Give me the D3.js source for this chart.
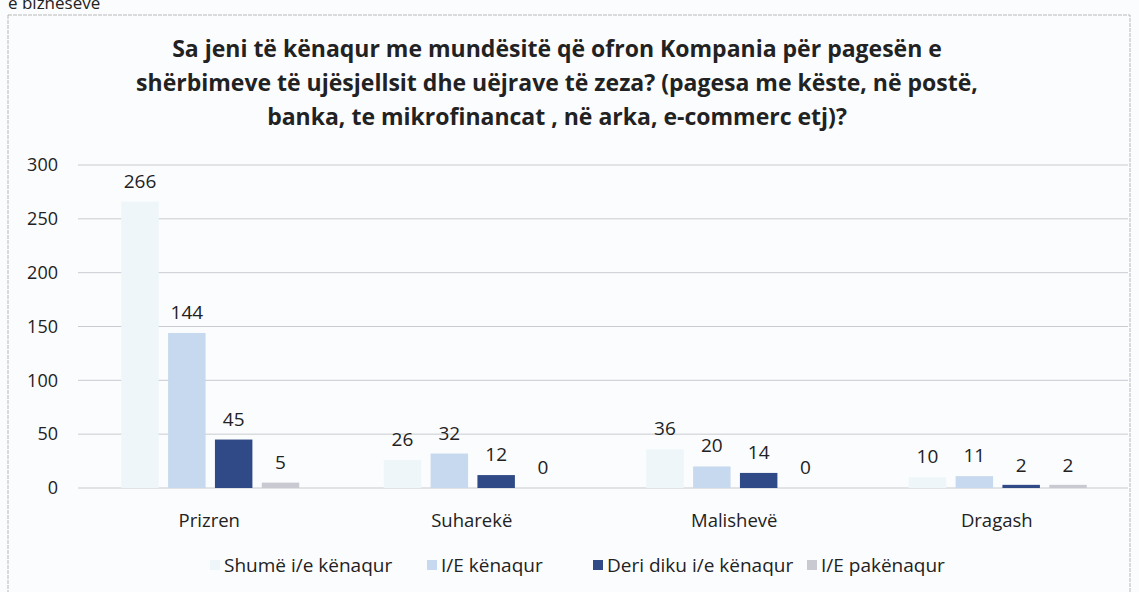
<!DOCTYPE html>
<html lang="en">
<head>
<meta charset="utf-8">
<title>Kenaqshmeria me pagesat</title>
<script src="https://d3js.org/d3.v7.min.js"></script>
<style>
  body { margin: 0; background: #fbfcfe; }
  text { font-family: "Open Sans", "Noto Sans", sans-serif; fill: #222; }
</style>
</head>
<body>
<div id="chart"></div>
<script>
var w = 1139, h = 592;

// data
var cities = ["Prizren", "Suharekë", "Malishevë", "Dragash"];
var seriesNames = ["Shumë i/e kënaqur", "I/E kënaqur", "Deri diku i/e kënaqur", "I/E pakënaqur"];
var shume = [266, 26, 36, 10];
var kenaqur = [144, 32, 20, 11];
var deriDiku = [45, 12, 14, 2];
var pakenaqur = [5, 0, 0, 2];
var yTicks = [0, 50, 100, 150, 200, 250, 300];
var titleLines = [
  "Sa jeni të kënaqur me mundësitë që ofron Kompania për pagesën e",
  "shërbimeve të ujësjellsit dhe uëjrave të zeza? (pagesa me këste, në postë,",
  "banka, te mikrofinancat , në arka, e-commerc etj)?"
];
var colors = ["#eef6f9", "#c6d9ee", "#2f4a86", "#c9c9d2"];

var allSeries = [shume, kenaqur, deriDiku, pakenaqur];

var svg = d3.select("#chart").append("svg")
  .attr("width", w).attr("height", h);

// text cut off above the frame, as in the source scan
svg.append("text").attr("x", 8).attr("y", 9)
  .style("font-size", "17px").text("e bizneseve");

// frame
svg.append("rect").attr("x", 8).attr("y", 15).attr("width", 1122).attr("height", 600)
  .attr("fill", "none").attr("stroke", "#b8b8b8").attr("stroke-width", 1)
  .attr("stroke-dasharray", "4,1");

// title
svg.selectAll(".title").data(titleLines).enter().append("text")
  .attr("class", "title")
  .attr("x", 557).attr("y", (d, i) => 57 + i * 34)
  .attr("text-anchor", "middle")
  .style("font-size", "23px").style("font-weight", "bold")
  .text(d => d);

var x0 = d3.scaleBand().domain(cities).range([78, 1128]);
var x1 = d3.scaleBand().domain(d3.range(4)).range([0, 178]).paddingInner(0.2);
var y = d3.scaleLinear().domain([0, 300]).range([488, 165]);

// grid
svg.selectAll(".grid").data(yTicks).enter().append("line")
  .attr("x1", 78).attr("x2", 1128)
  .attr("y1", d => y(d)).attr("y2", d => y(d))
  .attr("stroke", "#c8cbd0").attr("stroke-width", 1);

// y axis labels
var yAxis = d3.axisLeft(y).tickValues(yTicks).tickSize(0).tickPadding(0);
svg.append("g").attr("transform", "translate(58,0)").call(yAxis)
  .call(g => g.select(".domain").remove())
  .selectAll("text").style("font-size", "18px").attr("fill", "#222")
  .style("font-family", "'Open Sans', sans-serif");

// x axis labels
var xAxis = d3.axisBottom(x0).tickSize(0).tickPadding(0);
svg.append("g").attr("transform", "translate(0,514)").call(xAxis)
  .call(g => g.select(".domain").remove())
  .selectAll("text").style("font-size", "18.5px").attr("fill", "#222")
  .style("font-family", "'Open Sans', sans-serif");

// bars
var groups = svg.selectAll(".grp").data(cities).enter().append("g")
  .attr("transform", d => "translate(" + (x0(d) + (x0.bandwidth() - 178) / 2 + 1) + ",0)");

groups.each(function(city, ci) {
  var g = d3.select(this);
  allSeries.forEach(function(vals, si) {
    var v = vals[ci];
    g.append("rect")
      .attr("x", x1(si)).attr("width", x1.bandwidth())
      .attr("y", y(v) - (v < 3 && v > 0 ? 1 : 0))
      .attr("height", y(0) - y(v) + (v < 3 && v > 0 ? 1 : 0))
      .attr("fill", colors[si]);
    g.append("text")
      .attr("x", x1(si) + x1.bandwidth() / 2)
      .attr("y", y(v) - 14)
      .attr("text-anchor", "middle")
      .style("font-size", "19px")
      .text(v);
  });
});

// legend
var legendX = [211, 428, 594, 808];
var leg = svg.selectAll(".leg").data(seriesNames).enter().append("g")
  .attr("transform", (d, i) => "translate(" + legendX[i] + ",565)");
leg.append("rect").attr("x", -1).attr("y", -5).attr("width", 10).attr("height", 10)
  .attr("fill", (d, i) => colors[i]);
leg.append("text").attr("x", 13).attr("y", 7)
  .style("font-size", "19px").text(d => d);
</script>
</body>
</html>
